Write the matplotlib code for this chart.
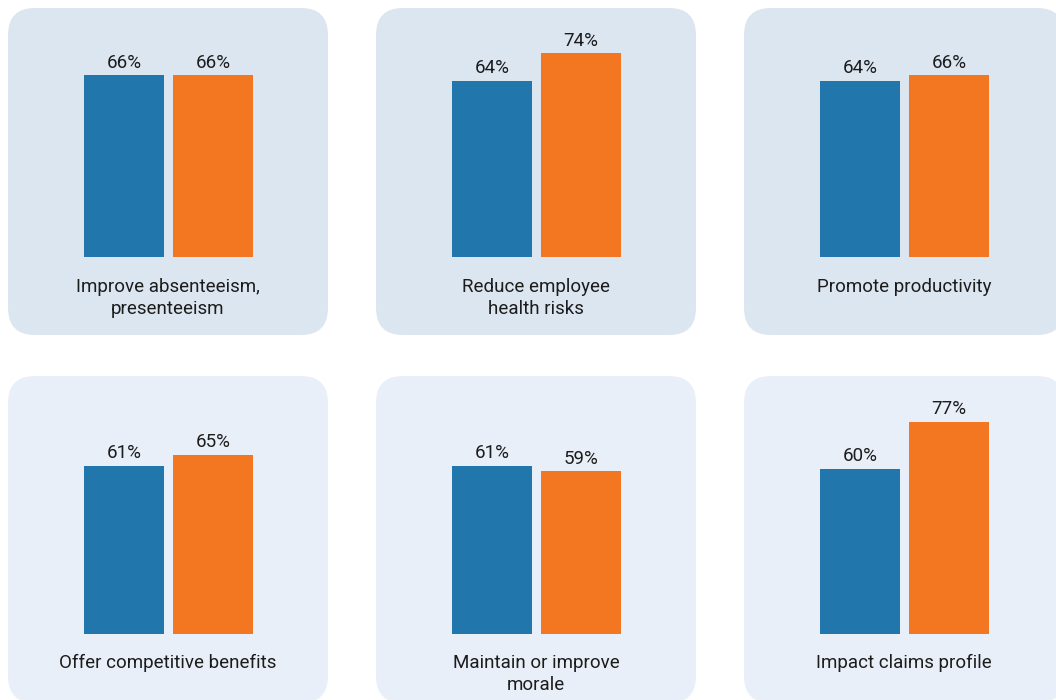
import matplotlib
matplotlib.use("Agg")
import matplotlib.pyplot as plt
from matplotlib.patches import FancyBboxPatch

# survey results, two groups per objective
categories = ["Improve absenteeism,\npresenteeism", "Reduce employee\nhealth risks",
              "Promote productivity", "Offer competitive benefits",
              "Maintain or improve\nmorale", "Impact claims profile"]
group_a = [66, 64, 64, 61, 61, 60]
group_b = [66, 74, 66, 65, 59, 77]

blue = "#2176ab"
orange = "#f37721"
panel_top = "#dce6f1"
panel_bottom = "#e9eff8"
txt = "#1c1c1c"

W, H = 1056, 700
plt.rcParams['font.family'] = ['Roboto', 'DejaVu Sans']

fig = plt.figure(figsize=(W / 100, H / 100), dpi=100)
fig.patch.set_facecolor("white")

# background axes in pixel units for the rounded panels
bg = fig.add_axes([0, 0, 1, 1])
bg.set_xlim(0, W)
bg.set_ylim(H, 0)
bg.axis("off")

col_x = [8, 376, 744]
row_y = [8, 376]
row_base = [257, 633.5]
row_col = [panel_top, panel_bottom]
pw, ph = 320, 327
px_per_pct = 2.75

for i, cat in enumerate(categories):
    r, c = divmod(i, 3)
    x0, y0 = col_x[c], row_y[r]
    bg.add_patch(FancyBboxPatch((x0, y0), pw, ph,
                                boxstyle="round,pad=0,rounding_size=27",
                                fc=row_col[r], ec="none"))

    # bar axes: baseline at row_base, 1% = px_per_pct pixels
    base = row_base[r]
    ax = fig.add_axes([x0 / W, (H - base) / H, pw / W, 100 * px_per_pct / H])
    ax.set_xlim(-116 / 89, (pw - 116) / 89)
    ax.set_ylim(0, 100)
    ax.axis("off")
    ax.patch.set_alpha(0)

    vals = [group_a[i], group_b[i]]
    ax.bar([0, 1], vals, width=80 / 89, color=[blue, orange], linewidth=0)
    for xi, v in zip([0, 1], vals):
        ax.annotate(f"{v}%", (xi, v), xytext=(0, 5.5), textcoords="offset points",
                    ha="center", va="baseline", fontsize=13.5, color=txt)

    bg.text(x0 + 160, base + 20.5, cat, ha="center", va="top", fontsize=13.5,
            color=txt, linespacing=1.3, multialignment="center")

fig.savefig("out.png", dpi=100)
